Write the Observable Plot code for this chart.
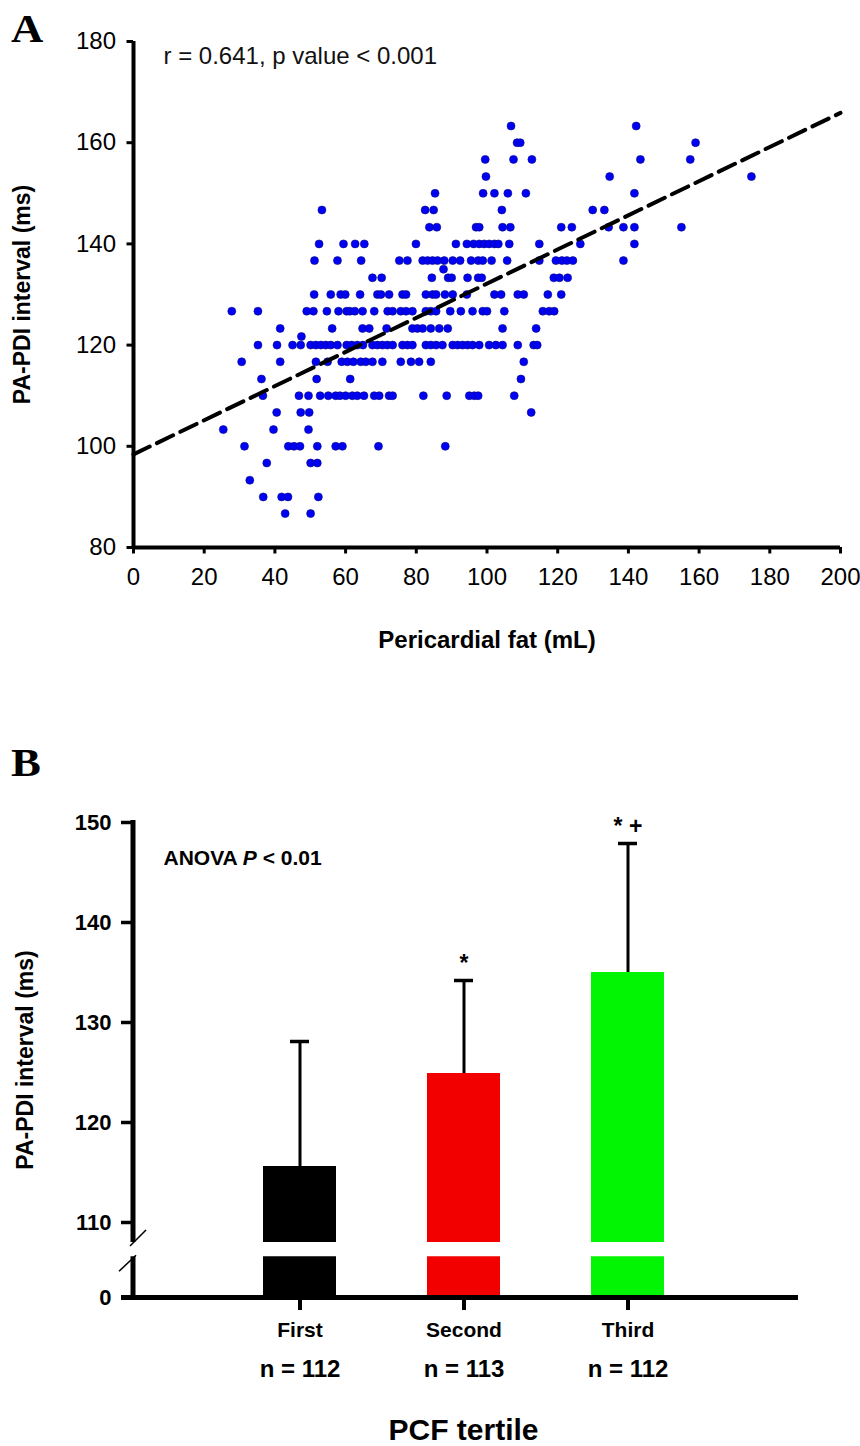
<!DOCTYPE html>
<html>
<head>
<meta charset="utf-8">
<script src="https://cdn.jsdelivr.net/npm/d3@7"></script>
<script src="https://cdn.jsdelivr.net/npm/@observablehq/plot@0.6"></script>
<style>
html, body { margin: 0; padding: 0; background: #fff; }
#page { position: relative; width: 860px; height: 1446px; overflow: hidden; background: #fff; }
#page svg { display: block; }
#overlay { position: absolute; left: 0; top: 0; pointer-events: none; }
</style>
</head>
<body>
<div id="page"><div id="panelA"></div><div id="panelB"></div></div>
<script>
// ---------------- Panel A data: pericardial fat (mL) per PA-PDI level (ms) ----------------
const ms86 = [42.9, 50.1];
const ms90 = [36.7, 41.9, 43.7, 52.3];
const ms93 = [32.9];
const ms96 = [37.7, 50.1, 52.0];
const ms100 = [31.4, 43.8, 45.4, 47.1, 52.0, 57.2, 59.1, 69.3, 88.2];
const ms103 = [25.4, 39.6, 49.5];
const ms106 = [40.5, 47.3, 49.7, 112.5];
const ms110 = [36.6, 46.8, 49.5, 52.8, 55.1, 57.2, 58.4, 60.0, 61.9, 63.3, 65.2, 68.1, 69.5, 72.3, 73.3, 82.0, 88.6, 95.0, 96.4, 97.5, 107.7];
const ms113 = [36.2, 51.8, 61.3, 109.6];
const ms116 = [30.6, 41.5, 51.6, 54.9, 58.9, 60.5, 62.2, 64.3, 65.7, 67.6, 70.4, 75.6, 78.5, 80.8, 84.1, 110.4];
const ms120 = [35.2, 40.6, 45.0, 47.3, 50.1, 51.6, 53.0, 54.4, 55.8, 57.7, 60.3, 61.7, 63.3, 64.9, 67.6, 69.0, 70.4, 71.8, 73.3, 76.1, 77.5, 78.9, 82.7, 84.1, 85.6, 87.4, 90.3, 91.7, 93.1, 94.5, 95.9, 97.8, 100.6, 102.5, 104.4, 108.7, 113.2, 114.2];
const ms122 = [47.5];
const ms123 = [41.5, 56.2, 64.8, 66.7, 71.6, 78.9, 80.3, 81.8, 84.1, 86.5, 88.9, 104.4, 113.9];
const ms126 = [27.8, 35.2, 49.0, 50.9, 54.7, 58.0, 60.3, 61.2, 62.6, 64.8, 68.1, 71.9, 73.3, 75.6, 77.1, 78.9, 82.7, 84.1, 85.6, 89.6, 92.6, 95.9, 98.8, 100.0, 104.9, 115.8, 117.6, 119.0];
const ms130 = [51.1, 55.8, 58.6, 59.9, 64.1, 69.0, 70.0, 72.3, 76.1, 77.1, 82.7, 84.6, 85.6, 88.1, 90.3, 94.3, 102.1, 104.0, 108.7, 110.4, 117.2, 121.0];
const ms133 = [67.6, 70.2, 84.4, 89.0, 90.0, 94.5, 97.5, 98.5, 118.9, 120.5, 122.8];
const ms135 = [87.7];
const ms136 = [51.2, 57.7, 64.4, 75.2, 77.5, 81.8, 83.2, 84.6, 86.0, 87.9, 90.3, 92.4, 95.5, 97.5, 98.8, 101.3, 105.7, 114.8, 119.5, 121.2, 122.6, 124.3, 138.6];
const ms140 = [52.5, 59.4, 62.7, 65.3, 79.9, 91.2, 94.3, 96.2, 97.8, 99.2, 100.6, 102.1, 103.2, 106.3, 114.8, 126.4, 141.7];
const ms143 = [83.7, 85.8, 96.9, 97.8, 104.4, 106.6, 121.0, 124.0, 134.4, 138.6, 141.7, 155.0];
const ms146 = [53.3, 82.5, 84.9, 104.2, 129.9, 133.2];
const ms150 = [85.3, 98.9, 102.1, 105.9, 111.0, 141.7];
const ms153 = [99.7, 134.7, 174.8];
const ms156 = [99.5, 107.5, 112.7, 143.4, 157.5];
const ms160 = [108.5, 109.4, 159.0];
const ms163 = [106.8, 142.2];

const papdiLevels = [86.7, 90, 93.3, 96.7, 100, 103.3, 106.7, 110, 113.3, 116.7, 120, 121.7, 123.3, 126.7, 130, 133.3, 135.0, 136.7, 140, 143.3, 146.7, 150, 153.3, 156.7, 160, 163.3];
const fatByLevel = [ms86, ms90, ms93, ms96, ms100, ms103, ms106, ms110, ms113, ms116, ms120, ms122, ms123, ms126, ms130, ms133, ms135, ms136, ms140, ms143, ms146, ms150, ms153, ms156, ms160, ms163];

// regression line end points
const fitFat = [0, 200];
const fitMs = [98.4, 165.9];

const xTicksA = [0, 20, 40, 60, 80, 100, 120, 140, 160, 180, 200];
const yTicksA = [80, 100, 120, 140, 160, 180];
const annotationA = "r = 0.641, p value < 0.001";

// ---------------- Panel B data ----------------
const tertiles = ["First", "Second", "Third"];
const meanMs = [115.6, 124.9, 135.0];
const sdMs = [12.5, 9.3, 12.9];
const sigMarks = ["", "*", "* +"];
const nCounts = [112, 113, 112];
const yTicksB = [0, 110, 120, 130, 140, 150];
const breakLow = 80, breakHigh = 108; // axis break band
const anovaLabel = "ANOVA P < 0.01";

// styles
const barColors = ["#000000", "#f20000", "#02f502"];
const font = "'Liberation Sans', Arial, Helvetica, sans-serif";

// ---------------- Panel A ----------------
const scatter = papdiLevels.flatMap((ms, i) => fatByLevel[i].map(fat => ({fat, ms})));
const fitLine = fitFat.map((fat, i) => ({fat, ms: fitMs[i]}));

const plotA = Plot.plot({
  width: 860, height: 700,
  marginLeft: 133, marginRight: 20, marginTop: 41, marginBottom: 153,
  style: {fontFamily: font, fontSize: "24px", color: "black", background: "white", overflow: "visible"},
  x: {domain: [0, 200]},
  y: {domain: [80, 180]},
  marks: [
    Plot.dot(scatter, {x: "fat", y: "ms", r: 4, fill: "#0000f5", stroke: "#0a0a80", strokeWidth: 0.6}),
    Plot.line(fitLine, {x: "fat", y: "ms", stroke: "black", strokeWidth: 4, strokeDasharray: "18,8"}),
    Plot.ruleX([0], {stroke: "black", strokeWidth: 4}),
    Plot.ruleY([80], {stroke: "black", strokeWidth: 4}),
    Plot.axisY({ticks: yTicksA, tickSize: 6.5, tickPadding: 11, fontSize: 24, strokeWidth: 3, label: null}),
    Plot.axisX({ticks: xTicksA, tickSize: 6.5, tickPadding: 14, fontSize: 24, strokeWidth: 3, label: null}),
    Plot.text(["Pericardial fat (mL)"], {text: d => d, frameAnchor: "bottom", dy: 93, fontSize: 24, fontWeight: "bold", lineAnchor: "middle", textAnchor: "middle"}),
    Plot.text(["PA-PDI interval (ms)"], {text: d => d, frameAnchor: "left", dx: -111, rotate: -90, fontSize: 23, fontWeight: "bold", lineAnchor: "middle", textAnchor: "middle"}),
    Plot.text([annotationA], {text: d => d, frameAnchor: "top-left", dx: 30, dy: 15, fontSize: 24, lineAnchor: "middle", textAnchor: "start", fill: "#111"})
  ]
});
document.getElementById("panelA").appendChild(plotA);

// ---------------- Panel B ----------------
const rowsB = tertiles.map((t, i) => ({tertile: t, mean: meanMs[i], upper: meanMs[i] + sdMs[i], sig: sigMarks[i], n: nCounts[i]}));
const hB = 746, mtB = 122, mbB = 149, mlB = 133;

const plotB = Plot.plot({
  width: 860, height: hB,
  marginLeft: mlB, marginRight: 67, marginTop: mtB, marginBottom: mbB,
  style: {fontFamily: font, fontSize: "22px", color: "black", background: "white", overflow: "visible"},
  x: {type: "band", domain: tertiles, paddingInner: 0.556, paddingOuter: 0.78},
  y: {type: "linear", domain: [0, breakHigh, 150], range: [hB - mbB, hB - mbB - 55, mtB]},
  color: {domain: tertiles, range: barColors},
  marks: [
    Plot.barY(rowsB, {x: "tertile", y: "mean", fill: "tertile"}),
    Plot.rect([0], {y1: breakLow, y2: breakHigh, fill: "white"}),
    Plot.ruleX(rowsB, {x: "tertile", y1: "mean", y2: "upper", stroke: "black", strokeWidth: 3}),
    Plot.tickY(rowsB, {x: "tertile", y: "upper", stroke: "black", strokeWidth: 3.5, insetLeft: 27, insetRight: 27}),
    Plot.text(rowsB, {x: "tertile", y: "upper", text: "sig", dy: -17, fontSize: 23, fontWeight: "bold"}),
    Plot.ruleY([0], {stroke: "black", strokeWidth: 5, insetLeft: -12, insetRight: -5}),
    Plot.axisY({ticks: yTicksB, tickSize: 12, tickPadding: 10, fontSize: 22, fontWeight: "bold", strokeWidth: 3.5, label: null}),
    Plot.axisX({tickSize: 13, tickPadding: 12, fontSize: 21, fontWeight: "bold", strokeWidth: 4, label: null}),
    Plot.text(rowsB, {x: "tertile", text: d => "n = " + d.n, frameAnchor: "bottom", dy: 72, fontSize: 24, fontWeight: "bold", lineAnchor: "middle"}),
    Plot.text(["PCF tertile"], {text: d => d, frameAnchor: "bottom", dy: 133, fontSize: 30, fontWeight: "bold", lineAnchor: "middle", textAnchor: "middle"}),
    Plot.text(["PA-PDI interval (ms)"], {text: d => d, frameAnchor: "left", dx: -108, rotate: -90, fontSize: 23, fontWeight: "bold", lineAnchor: "middle", textAnchor: "middle"}),
    Plot.text([anovaLabel], {text: d => d, frameAnchor: "top-left", dx: 30, dy: 36, fontSize: 21, fontWeight: "bold", lineAnchor: "middle", textAnchor: "start"})
  ]
});
document.getElementById("panelB").appendChild(plotB);

// broken y axis line and break marks, positioned through the y scale
const ysB = plotB.scale("y");
const gB = d3.select(plotB).append("g").attr("stroke", "black").attr("fill", "none");
gB.append("line").attr("x1", mlB).attr("x2", mlB)
  .attr("y1", ysB.apply(150) - 2).attr("y2", ysB.apply(breakHigh)).attr("stroke-width", 5);
gB.append("line").attr("x1", mlB).attr("x2", mlB)
  .attr("y1", ysB.apply(breakLow)).attr("y2", ysB.apply(0) + 2).attr("stroke-width", 5);
const yTop = ysB.apply(breakHigh), yBot = ysB.apply(breakLow);
gB.append("line").attr("x1", mlB - 3).attr("y1", yTop + 4).attr("x2", mlB + 13).attr("y2", yTop - 12).attr("stroke-width", 1.6);
gB.append("line").attr("x1", mlB - 14).attr("y1", yBot + 15).attr("x2", mlB + 3).attr("y2", yBot - 1).attr("stroke-width", 1.6);

// italic P in the ANOVA label
d3.select(plotB).selectAll("text").filter(function () { return this.textContent === anovaLabel; })
  .each(function () {
    const t = d3.select(this).style("white-space", "pre");
    t.text(null);
    t.append("tspan").text("ANOVA ");
    t.append("tspan").attr("font-style", "italic").text("P");
    t.append("tspan").text(" < 0.01");
  });

// panel letters
const overlay = d3.select("#page").append("svg").attr("id", "overlay").attr("width", 860).attr("height", 1446);
[["A", 42], ["B", 776]].forEach(([letter, baseline]) => {
  overlay.append("text")
    .attr("transform", `translate(11,${baseline}) scale(1.12,1)`)
    .attr("font-family", "'Liberation Serif', 'Times New Roman', serif")
    .attr("font-weight", "bold").attr("font-size", 40).attr("fill", "black")
    .text(letter);
});
</script>
</body>
</html>
